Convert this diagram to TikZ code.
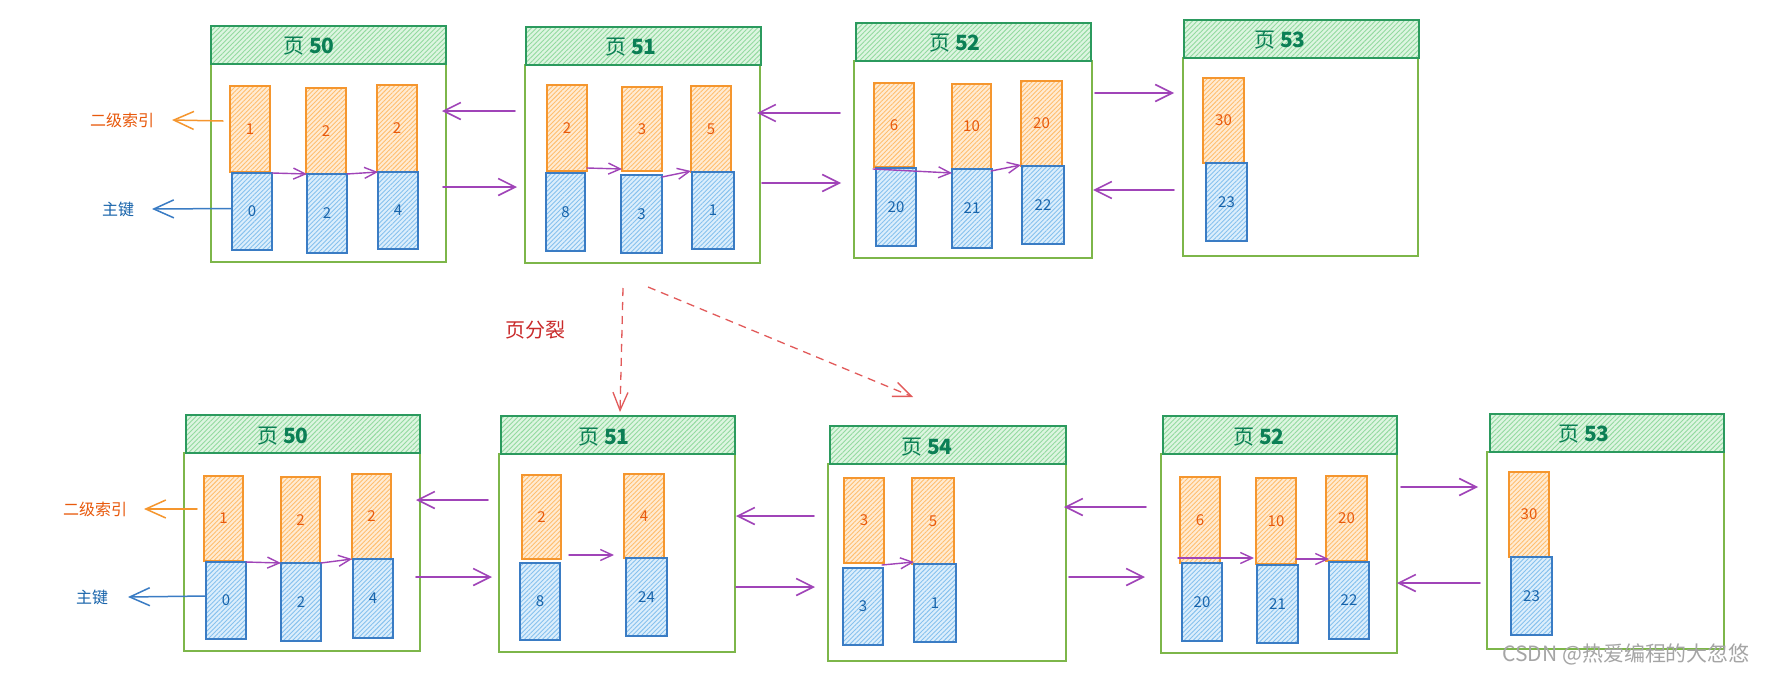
\documentclass[tikz,border=0pt]{standalone}
\usepackage{fontspec}
\setmainfont{Noto Sans CJK SC}
\usetikzlibrary{arrows.meta,patterns.meta}
\definecolor{ostroke}{HTML}{F5962E}
\definecolor{ohatch}{HTML}{FFBE6E}
\definecolor{ofill}{HTML}{FFEBD3}
\definecolor{otext}{HTML}{E8590C}
\definecolor{bstroke}{HTML}{3A7CC4}
\definecolor{bhatch}{HTML}{86C1EE}
\definecolor{bfill}{HTML}{DCEEFC}
\definecolor{btext}{HTML}{1864AB}
\definecolor{hstroke}{HTML}{2B9A5E}
\definecolor{hhatch}{HTML}{93DA9F}
\definecolor{hfill}{HTML}{DDF5E1}
\definecolor{htext}{HTML}{0B7F55}
\definecolor{pstroke}{HTML}{7DB64A}
\definecolor{purp}{HTML}{A044B8}
\definecolor{redd}{HTML}{E25A5A}
\definecolor{redt}{HTML}{C92A2A}
\definecolor{wm}{HTML}{A5A5A5}
\newcommand\kb[7]{\node[#1,minimum width={(#4)-(#2)},minimum height={(#5)-(#3)}] (#6) at ({((#2)+(#4))/2},{((#3)+(#5))/2}) {#7};}
\newcommand\pgtitle[1]{页 \textbf{#1}}
\tikzset{
  base/.style={inner sep=0pt, outer sep=0pt},
  hdr/.style={base, draw=hstroke, line width=1.6pt, preaction={fill=hfill},
    pattern={Lines[angle=45,distance=3.4pt,line width=0.9pt]}, pattern color=hhatch},
  pg/.style={base, draw=pstroke, line width=1.5pt, fill=white},
  okey/.style={base, draw=ostroke, line width=1.6pt, preaction={fill=ofill},
    pattern={Lines[angle=45,distance=3.2pt,line width=0.9pt]}, pattern color=ohatch,
    text=otext, font=\fontsize{15}{17}\selectfont},
  bkey/.style={base, draw=bstroke, line width=1.6pt, preaction={fill=bfill},
    pattern={Lines[angle=45,distance=3.2pt,line width=0.9pt]}, pattern color=bhatch,
    text=btext, font=\fontsize{15}{17}\selectfont},
  htxt/.style={base, text=htext, font=\fontsize{21}{24}\selectfont},
  olab/.style={base, text=otext, font=\fontsize{16}{18}\selectfont},
  blab/.style={base, text=btext, font=\fontsize{16}{18}\selectfont},
  parr/.style={draw=purp, line width=1.6pt, line cap=round, -{Straight Barb[length=17pt,width=17pt]}},
  iarr/.style={draw=purp, line width=1.4pt, line cap=round, -{Straight Barb[length=12pt,width=11pt]}},
  oarr/.style={draw=ostroke, line width=1.5pt, line cap=round, -{Straight Barb[length=20pt,width=18pt]}},
  barr/.style={draw=bstroke, line width=1.5pt, line cap=round, -{Straight Barb[length=20pt,width=18pt]}},
  rarr/.style={draw=redd, line width=1.3pt, dash pattern=on 8pt off 6pt, -{Straight Barb[length=18pt,width=15pt]}},
}
\begin{document}
\begin{tikzpicture}[x=1pt,y=-1pt]
\fill[white] (0,0) rectangle (1766,675);
\useasboundingbox (0,0) rectangle (1766,675);

% ================= TOP ROW =================
% page 50
\kb{pg}{211}{64}{446}{262}{p50a}{}
\kb{hdr}{211}{26}{446}{64}{h50a}{}
\node[htxt] (t50a) at (309,46) {\pgtitle{50}};
\kb{okey}{230}{86}{270}{172}{a50o1}{1}
\kb{bkey}{232}{173}{272}{250}{a50b1}{0}
\kb{okey}{306}{88}{346}{174}{a50o2}{2}
\kb{bkey}{307}{174}{347}{253}{a50b2}{2}
\kb{okey}{377}{85}{417}{172}{a50o3}{2}
\kb{bkey}{378}{172}{418}{249}{a50b3}{4}
\draw[iarr] (a50b1.north east) -- (a50b2.north west);
\draw[iarr] (a50b2.north east) -- (a50b3.north west);
\node[olab] (l2a) at (122,120) {二级索引};
\node[blab] (lpa) at (118,209) {主键};
\draw[oarr] ([xshift=-7pt,yshift=8pt]a50o1.west) -- ([xshift=18pt]l2a.east);
\draw[barr] ([yshift=3pt]a50b1.west) -- ([xshift=18pt]lpa.east);

% page 51
\kb{pg}{525}{65}{760}{263}{p51a}{}
\kb{hdr}{526}{27}{761}{65}{h51a}{}
\node[htxt] (t51a) at (631,47) {\pgtitle{51}};
\kb{okey}{547}{85}{587}{171}{a51o1}{2}
\kb{bkey}{546}{173}{585}{251}{a51b1}{8}
\kb{okey}{622}{87}{662}{171}{a51o2}{3}
\kb{bkey}{621}{175}{662}{253}{a51b2}{3}
\kb{okey}{691}{86}{731}{172}{a51o3}{5}
\kb{bkey}{692}{172}{734}{249}{a51b3}{1}
\draw[iarr] ([yshift=3pt]a51o1.south east) -- ([yshift=2pt]a51o2.south west);
\draw[iarr] ([yshift=-2pt]a51b2.north east) -- ([yshift=1pt]a51o3.south west);

% page 52
\kb{pg}{854}{61}{1092}{258}{p52a}{}
\kb{hdr}{856}{23}{1091}{61}{h52a}{}
\node[htxt] (t52a) at (955,43) {\pgtitle{52}};
\kb{okey}{874}{83}{914}{167}{a52o1}{6}
\kb{bkey}{876}{168}{916}{246}{a52b1}{20}
\kb{okey}{952}{84}{991}{169}{a52o2}{10}
\kb{bkey}{952}{169}{992}{248}{a52b2}{21}
\kb{okey}{1021}{81}{1062}{166}{a52o3}{20}
\kb{bkey}{1022}{166}{1064}{244}{a52b3}{22}
\draw[iarr] ([xshift=-1pt,yshift=-2pt]a52o1.south west) -- ([yshift=-4pt]a52o2.south west);
\draw[iarr] ([yshift=-2pt]a52o2.south east) -- ([yshift=1pt]a52o3.south west);

% page 53
\kb{pg}{1183}{58}{1418}{256}{p53a}{}
\kb{hdr}{1184}{20}{1419}{58}{h53a}{}
\node[htxt] (t53a) at (1280,40) {\pgtitle{53}};
\kb{okey}{1203}{78}{1244}{163}{a53o1}{30}
\kb{bkey}{1206}{163}{1247}{241}{a53b1}{23}

% links between pages (top)
\draw[parr] ([shift={(-10,-53)}]p51a.west) -- ([shift={(-4,-52)}]p50a.east);
\draw[parr] ([shift={(-3,24)}]p50a.east) -- ([shift={(-8,23)}]p51a.west);
\draw[parr] ([shift={(-14,-46.5)}]p52a.west) -- ([shift={(-3,-51)}]p51a.east);
\draw[parr] ([shift={(2,19)}]p51a.east) -- ([shift={(-13,23.5)}]p52a.west);
\draw[parr] ([shift={(3,-66.5)}]p52a.east) -- ([shift={(-9,-64)}]p53a.west);
\draw[parr] ([shift={(-9,33)}]p53a.west) -- ([shift={(1,30.5)}]p52a.east);

% ================= BOTTOM ROW =================
% page 50
\kb{pg}{184}{453}{420}{651}{p50b}{}
\kb{hdr}{186}{415}{420}{453}{h50b}{}
\node[htxt] (t50b) at (283,436) {\pgtitle{50}};
\kb{okey}{204}{476}{243}{561}{b50o1}{1}
\kb{bkey}{206}{562}{246}{639}{b50b1}{0}
\kb{okey}{281}{477}{320}{563}{b50o2}{2}
\kb{bkey}{281}{563}{321}{641}{b50b2}{2}
\kb{okey}{352}{474}{391}{559}{b50o3}{2}
\kb{bkey}{353}{559}{393}{638}{b50b3}{4}
\draw[iarr] (b50b1.north east) -- (b50b2.north west);
\draw[iarr] (b50b2.north east) -- (b50o3.south west);
\node[olab] (l2b) at (95,509) {二级索引};
\node[blab] (lpb) at (92,597) {主键};
\draw[oarr] ([xshift=-7pt,yshift=9.5pt]b50o1.west) -- ([xshift=17pt]l2b.east);
\draw[barr] ([yshift=4.5pt]b50b1.west) -- ([xshift=20pt]lpb.east);

% page 51
\kb{pg}{499}{454}{735}{652}{p51b}{}
\kb{hdr}{501}{416}{735}{454}{h51b}{}
\node[htxt] (t51b) at (604,437) {\pgtitle{51}};
\kb{okey}{522}{475}{561}{559}{b51o1}{2}
\kb{bkey}{520}{563}{560}{640}{b51b1}{8}
\kb{okey}{624}{474}{664}{558}{b51o2}{4}
\kb{bkey}{626}{558}{667}{636}{b51b2}{24}
\draw[iarr] ([shift={(8,-4)}]b51o1.south east) -- ([shift={(-10,-3)}]b51o2.south west);

% page 54
\kb{pg}{828}{464}{1066}{661}{p54b}{}
\kb{hdr}{830}{426}{1066}{464}{h54b}{}
\node[htxt] (t54b) at (927,447) {\pgtitle{54}};
\kb{okey}{844}{478}{884}{563}{b54o1}{3}
\kb{bkey}{843}{568}{883}{645}{b54b1}{3}
\kb{okey}{912}{478}{954}{564}{b54o2}{5}
\kb{bkey}{914}{564}{956}{642}{b54b2}{1}
\draw[iarr] ([shift={(-2,2)}]b54o1.south east) -- ([shift={(2,-2)}]b54o2.south west);

% page 52
\kb{pg}{1161}{454}{1397}{653}{p52b}{}
\kb{hdr}{1163}{416}{1397}{454}{h52b}{}
\node[htxt] (t52b) at (1259,437) {\pgtitle{52}};
\kb{okey}{1180}{477}{1220}{563}{b52o1}{6}
\kb{bkey}{1182}{563}{1222}{641}{b52b1}{20}
\kb{okey}{1256}{478}{1296}{564}{b52o2}{10}
\kb{bkey}{1257}{565}{1298}{643}{b52b2}{21}
\kb{okey}{1326}{476}{1367}{561}{b52o3}{20}
\kb{bkey}{1329}{562}{1369}{639}{b52b3}{22}
\draw[iarr] ([shift={(-2,-5)}]b52o1.south west) -- ([shift={(-2,-6)}]b52o2.south west);
\draw[iarr] ([shift={(0,-5)}]b52o2.south east) -- ([shift={(3,-2)}]b52o3.south west);

% page 53
\kb{pg}{1487}{452}{1724}{649}{p53b}{}
\kb{hdr}{1490}{414}{1724}{452}{h53b}{}
\node[htxt] (t53b) at (1584,434) {\pgtitle{53}};
\kb{okey}{1509}{472}{1549}{557}{b53o1}{30}
\kb{bkey}{1511}{557}{1552}{635}{b53b1}{23}

% links between pages (bottom)
\draw[parr] ([shift={(-11,-53)}]p51b.west) -- ([shift={(-4,-52)}]p50b.east);
\draw[parr] ([shift={(-4,25)}]p50b.east) -- ([shift={(-7,24)}]p51b.west);
\draw[parr] ([shift={(-14,-46.5)}]p54b.west) -- ([shift={(1,-37)}]p51b.east);
\draw[parr] ([shift={(1,34)}]p51b.east) -- ([shift={(-13,24.5)}]p54b.west);
\draw[parr] ([shift={(-15,-46.5)}]p52b.west) -- ([shift={(-2,-55.5)}]p54b.east);
\draw[parr] ([shift={(3,14.5)}]p54b.east) -- ([shift={(-16,23.5)}]p52b.west);
\draw[parr] ([shift={(4,-66.5)}]p52b.east) -- ([shift={(-9,-63.5)}]p53b.west);
\draw[parr] ([shift={(-7,32.5)}]p53b.west) -- ([shift={(0,29.5)}]p52b.east);

% ================= page split =================
\draw[rarr] ([shift={(-19.5,25)}]p51a.south) -- ([shift={(2,-4)}]h51b.north);
\draw[rarr] ([shift={(5.5,24)}]p51a.south) -- ([shift={(-35,-29)}]h54b.north);
\node[base, text=redt, font=\fontsize{20}{24}\selectfont] (split) at (535,330) {页分裂};

% watermark
\node[base, text=wm, font=\fontsize{21}{24}\selectfont, anchor=east] (wmk) at (1750,654) {CSDN @热爱编程的大忽悠};
\end{tikzpicture}
\end{document}
